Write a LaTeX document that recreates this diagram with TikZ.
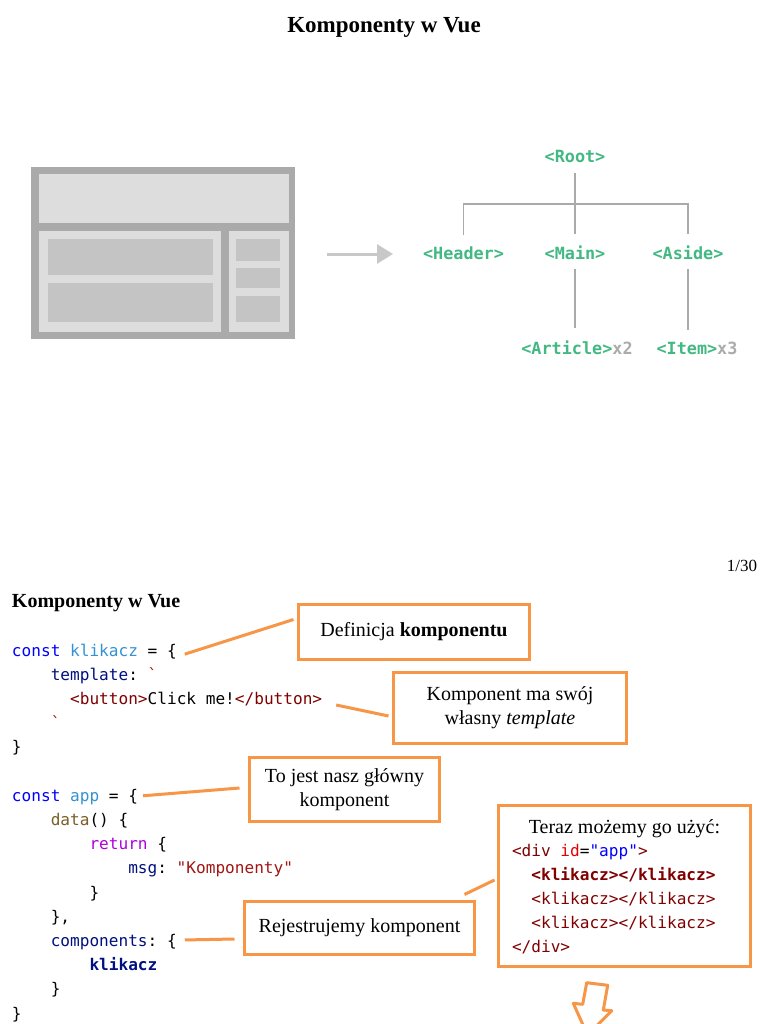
\documentclass[tikz,border=0pt]{standalone}
\usepackage{fontspec}
\setmainfont{Liberation Serif}
\setmonofont{DejaVu Sans Mono}
\usetikzlibrary{arrows.meta, positioning}
\definecolor{vuegreen}{HTML}{42B883}
\definecolor{countgray}{HTML}{ABABAB}
\definecolor{treegray}{HTML}{AAAAAA}
\definecolor{layoutdark}{HTML}{AAAAAA}
\definecolor{layoutlight}{HTML}{DDDDDD}
\definecolor{layoutmid}{HTML}{C4C4C4}
\definecolor{arrowgray}{HTML}{C8C8C8}
\definecolor{calloutorange}{HTML}{F79646}
\definecolor{kwblue}{HTML}{0000FF}
\definecolor{varblue}{HTML}{3491D2}
\definecolor{propnavy}{HTML}{001080}
\definecolor{strred}{HTML}{A31515}
\definecolor{tagred}{HTML}{800000}
\definecolor{attrred}{HTML}{E50000}
\definecolor{fnbrown}{HTML}{795E26}
\definecolor{retpurple}{HTML}{AF00DB}
\newcommand{\codefont}{\ttfamily\fontsize{16.1}{19}\selectfont}
\newcommand{\notefont}{\rmfamily\fontsize{20}{24}\selectfont}

\begin{document}
\begin{tikzpicture}[x=1pt, y=-1pt, every node/.style={outer sep=0pt},
  codeline/.style={anchor=base west, inner sep=0pt, font=\codefont},
  treelabel/.style={anchor=base, inner sep=0pt, text=vuegreen,
    font=\ttfamily\bfseries\fontsize{16.8}{20}\selectfont},
  treeline/.style={treegray, line width=1.5pt},
  flowarrow/.style={arrowgray, line width=3pt, -{Triangle[length=16pt, width=19pt]}},
  callout/.style={draw=calloutorange, line width=3pt, fill=white, align=center,
    font=\notefont},
  callline/.style={calloutorange, line width=3pt}]

\def\cw{9.69}
\path[use as bounding box, fill=white] (0,0) rectangle (768,1024);

% Slide 1 title
\node[anchor=base, inner sep=0pt, font=\rmfamily\bfseries\fontsize{23}{27}\selectfont]
  (title) at (384,33) {Komponenty w Vue};

% Page layout sketch
\fill[layoutdark] (31,167) rectangle (295,339);
\fill[layoutlight] (39,174) rectangle (289,223);
\fill[layoutlight] (39,231) rectangle (221,332);
\fill[layoutlight] (229,231) rectangle (289,332);
\fill[layoutmid] (48,239) rectangle (213,275);
\fill[layoutmid] (48,283) rectangle (213,322);
\foreach \ya/\yb in {239/261, 268/288, 296/322}{
  \fill[layoutmid] (236,\ya) rectangle (280,\yb);
}

\coordinate (arrowtail) at (327,254);
\coordinate (arrowhead) at (393,254);
\draw[flowarrow] (arrowtail) -- (arrowhead);

% Component tree
\node[treelabel] (root) at (575,163) {<Root>};
\node[treelabel] (header) at (463.5,259) {<Header>};
\node[treelabel] (main) at (575,259) {<Main>};
\node[treelabel] (aside) at (688,259) {<Aside>};
\node[treelabel] (article) at (577,354) {<Article>\textcolor{countgray}{x2}};
\node[treelabel] (item) at (697,354) {<Item>\textcolor{countgray}{x3}};
\coordinate (bus) at (575,204);

\draw[treeline, shorten <=10pt, shorten >=11pt] (root.south) -- (main.north);
\draw[treeline, shorten <=11pt, shorten >=11pt] (header.north) |- (bus) -| (aside.north);
\draw[treeline, shorten <=10pt, shorten >=12pt] (main.south) -- (main.south |- article.north);
\draw[treeline, shorten <=10pt, shorten >=12pt] (aside.south) -- (aside.south |- item.north);

% Page number
\node[anchor=base east, inner sep=0pt, font=\rmfamily\fontsize{17}{20}\selectfont]
  (pagenum) at (757,571) {1/30};

% Slide 2 heading
\node[anchor=base west, inner sep=0pt, font=\rmfamily\bfseries\fontsize{20}{24}\selectfont]
  (heading) at (12,607) {Komponenty w Vue};

% Code listing
\node[codeline] (c1) at (12,656) {\textcolor{kwblue}{const} \textcolor{varblue}{klikacz} = \{};
\node[codeline] (c2) at ({12+4*\cw},680.2) {\textcolor{propnavy}{template}: \textcolor{strred}{`}};
\node[codeline] (c3) at ({12+6*\cw},704.4) {\textcolor{tagred}{<button>}Click me!\textcolor{tagred}{</button>}};
\node[codeline] (c4) at ({12+4*\cw},728.6) {\textcolor{strred}{`}};
\node[codeline] (c5) at (12,752.8) {\}};
\node[codeline] (c6) at (12,801.2) {\textcolor{kwblue}{const} \textcolor{varblue}{app} = \{};
\node[codeline] (c7) at ({12+4*\cw},825.4) {\textcolor{fnbrown}{data}() \{};
\node[codeline] (c8) at ({12+8*\cw},849.6) {\textcolor{retpurple}{return} \{};
\node[codeline] (c9) at ({12+12*\cw},873.8) {\textcolor{propnavy}{msg}: \textcolor{strred}{"Komponenty"}};
\node[codeline] (c10) at ({12+8*\cw},898) {\}};
\node[codeline] (c11) at ({12+4*\cw},922.2) {\},};
\node[codeline] (c12) at ({12+4*\cw},946.4) {\textcolor{propnavy}{components}: \{};
\node[codeline] (c13) at ({12+8*\cw},970.6) {\textcolor{propnavy}{\bfseries klikacz}};
\node[codeline] (c14) at ({12+4*\cw},994.8) {\}};
\node[codeline] (c15) at (12,1019) {\}};

% Callouts
\node[callout, minimum width=231pt, minimum height=55pt] (def) at (414,631.5)
  {Definicja \textbf{komponentu}};
\node[callout, minimum width=233pt, minimum height=71pt] (tmpl) at (510,708)
  {Komponent ma swój\\własny \textit{template}};
\node[callout, minimum width=190pt, minimum height=64pt] (mainc) at (344.5,789.5)
  {To jest nasz główny\\komponent};
\node[callout, minimum width=230pt, minimum height=53pt] (reg) at (359.5,928)
  {Rejestrujemy komponent};
\node[callout, minimum width=252pt, minimum height=161pt] (usebox) at (624.5,886) {};

\node[anchor=base, inner sep=0pt, font=\notefont] (usetitle) at (624.5,833)
  {Teraz możemy go użyć:};
\node[codeline] (u1) at (512,856.5)
  {\textcolor{tagred}{<div} \textcolor{attrred}{id}=\textcolor{kwblue}{"app"}\textcolor{tagred}{>}};
\node[codeline] (u2) at ({512+2*\cw},880.5) {\textcolor{tagred}{\bfseries <klikacz></klikacz>}};
\node[codeline] (u3) at ({512+2*\cw},904.5) {\textcolor{tagred}{<klikacz></klikacz>}};
\node[codeline] (u4) at ({512+2*\cw},928.5) {\textcolor{tagred}{<klikacz></klikacz>}};
\node[codeline] (u5) at (512,952.5) {\textcolor{tagred}{</div>}};

% Callout connectors
\draw[callline] ([xshift=8pt, yshift=-3pt]c1.east) -- ([xshift=-5pt, yshift=12pt]def.west);
\draw[callline] ([xshift=14pt, yshift=-6pt]c3.east) -- ([xshift=-5pt, yshift=-8pt]tmpl.west);
\draw[callline] ([xshift=5pt, yshift=1pt]c6.east) -- ([xshift=-10pt, yshift=1.5pt]mainc.west);
\draw[callline] ([xshift=8pt, yshift=2pt]c12.east) -- ([xshift=-10pt, yshift=-11pt]reg.west);
\draw[callline] ([xshift=-10pt, yshift=7pt]reg.north east) -- ([xshift=-4pt, yshift=6pt]usebox.west);

% Down arrow
\draw[calloutorange, line width=3pt, line join=round]
  (586.7,982.7) -- (607.7,985.3) -- (603.3,1010) -- (611.7,1010.7)
  -- (587.5,1035) -- (573.3,1003.3) -- (582.7,1004.3) -- cycle;

\end{tikzpicture}
\end{document}
